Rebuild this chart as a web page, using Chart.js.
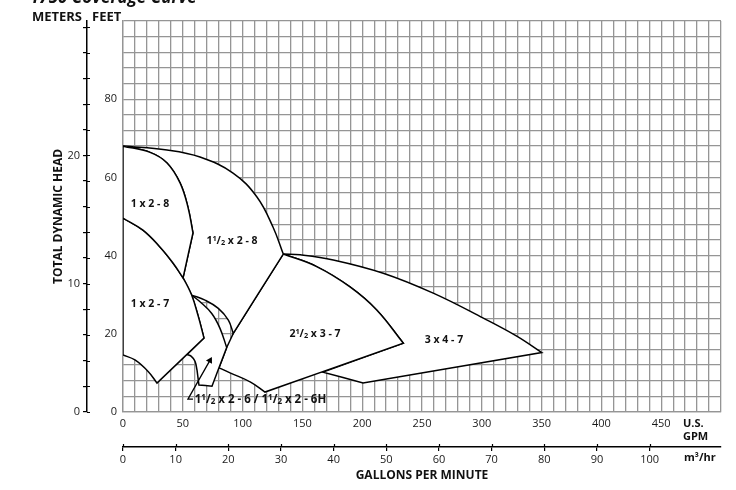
<!DOCTYPE html>
<html>
<head>
<meta charset="utf-8">
<script src="https://cdn.jsdelivr.net/npm/chart.js@4.4.1/dist/chart.umd.min.js"></script>
<style>
  html, body { margin: 0; padding: 0; background: #fff; overflow: hidden; }
</style>
</head>
<body>
<canvas id="coverage-chart" width="736" height="490"></canvas>
<script>
// pump coverage chart - flow in US GPM, head in feet

const gpmLabels = [0, 50, 100, 150, 200, 250, 300, 350, 400, 450];
const feetLabels = [0, 20, 40, 60, 80];
const meterTicks = [0, 2, 4, 6, 8, 10, 12, 14, 16, 18, 20, 22, 24, 26, 28, 30];
const meterLabels = [0, 10, 20];
const m3Ticks = [0, 10, 20, 30, 40, 50, 60, 70, 80, 90, 100];

const regionNames = ['1 x 2 - 8', '1 x 2 - 7', '1½ x 2 - 8', '2½ x 3 - 7', '3 x 4 - 7'];
const labelAnchors = [[22.6, 53.5], [22.6, 27.9], [91.1, 44.0], [160.5, 20.2], [268.4, 18.7]];
const smallName = '1½ x 2 - 6 / 1½ x 2 - 6H';
const smallAnchor = [60.0, 3.3];

// region outlines: list of edges, each edge is [gpm, feet] points
const edges1x2_8 = [
    [[0, 68], [22.6, 66.4], [36.8, 63.7], [47.7, 58.6], [54.3, 52.4], [58.5, 45.8]],
    [[58.5, 45.8], [50.2, 34.3]],
    [[50.2, 34.3], [41.8, 38.1], [30.9, 42.2], [16.7, 46.5], [0, 49.6]],
    [[0, 49.6], [0, 68]]
];
const edges1x2_7 = [
    [[0, 49.6], [16.7, 46.5], [30.9, 42.2], [41.8, 38.1], [50.2, 34.3], [57.4, 29.9], [63.0, 24.4], [67.7, 18.9]],
    [[67.7, 18.9], [28.4, 7.4]],
    [[28.4, 7.4], [21.2, 10.3], [10, 13.3], [0, 14.6]],
    [[0, 14.6], [0, 49.6]]
];
const edges15x2_8 = [
    [[0, 68], [36.8, 67.0], [64.4, 65.2], [92.0, 61.1], [112.0, 55.0], [125.4, 47.3], [134, 40.4]],
    [[134, 40.4], [92.2, 20.1]],
    [[92.2, 20.1], [88.1, 23.5], [79.7, 26.5], [68.6, 28.6], [57.4, 29.9]],
    [[57.4, 29.9], [50.2, 34.3]],
    [[50.2, 34.3], [58.5, 45.8]],
    [[58.5, 45.8], [54.3, 52.4], [47.7, 58.6], [36.8, 63.7], [22.6, 66.4], [0, 68]]
];
const edges15x2_6 = [
    [[57.4, 29.9], [64.4, 28.2], [74.2, 25.2], [81.1, 21.4], [86.7, 16.5]],
    [[86.7, 16.5], [74.4, 6.6]],
    [[74.4, 6.6], [63.5, 6.9]],
    [[63.5, 6.9], [61.9, 10.7]],
    [[61.9, 10.7], [60.2, 13.0], [56.9, 14.3], [53.5, 14.7]],
    [[53.5, 14.7], [67.7, 18.9]],
    [[67.7, 18.9], [63.0, 24.4], [57.4, 29.9]]
];
const edges25x3_7 = [
    [[134, 40.4], [161.9, 37.2], [189.8, 32.0], [212.1, 26.1], [234.4, 17.6]],
    [[234.4, 17.6], [118.7, 5.1]],
    [[118.7, 5.1], [106.3, 7.7], [89.5, 10.0], [80.3, 11.3]],
    [[80.3, 11.3], [86.7, 16.5]],
    [[86.7, 16.5], [92.2, 20.1]],
    [[92.2, 20.1], [134, 40.4]]
];
const edges3x4_7 = [
    [[134, 40.4], [148.2, 40.2], [175.8, 38.9], [217.6, 35.5], [259.4, 30.4], [301.3, 24.0], [329.2, 19.4], [350.1, 15.2]],
    [[350.1, 15.2], [200.7, 7.4]],
    [[200.7, 7.4], [167.2, 10.2]],
    [[167.2, 10.2], [234.4, 17.6]],
    [[234.4, 17.6], [212.1, 26.1], [189.8, 32.0], [161.9, 37.2], [134, 40.4]]
];
const arrowLine = [[58.5, 3.3], [54.3, 3.3], [72.7, 13.2]];

const FT_PER_M = 3.28084;
const GPM_PER_M3H = 4.40287;
const FONT = '"Open Sans", Lato, sans-serif';

Chart.defaults.font.family = FONT;
Chart.defaults.color = '#1a1a1a';

// edges share their end points, so corners come out sharp with tension on
function outline(edges) {
    const pts = [];
    edges.forEach(e => e.forEach(p => pts.push({x: p[0], y: p[1]})));
    return pts;
}

function region(edges) {
    return {
        data: outline(edges),
        showLine: true,
        fill: 'shape',
        backgroundColor: '#fff',
        borderColor: '#000',
        borderWidth: 1.5,
        tension: 0.4,
        pointRadius: 0
    };
}

function textParts(str, size) {
    const parts = [];
    str.split(/(½)/).forEach(s => {
        if (s === '½') {
            parts.push({t: '1', size: size * 0.7, dy: -3});
            parts.push({t: '/', size: size, dy: 0});
            parts.push({t: '2', size: size * 0.7, dy: 1});
        } else if (s) {
            parts.push({t: s, size: size, dy: 0});
        }
    });
    return parts;
}

function drawRich(ctx, str, x, y, size, align) {
    const parts = textParts(str, size);
    let w = 0;
    parts.forEach(p => {
        ctx.font = 'bold ' + p.size + 'px ' + FONT;
        p.w = ctx.measureText(p.t).width;
        w += p.w;
    });
    let cx = align === 'left' ? x : x - w / 2;
    ctx.textAlign = 'left';
    ctx.textBaseline = 'alphabetic';
    parts.forEach(p => {
        ctx.font = 'bold ' + p.size + 'px ' + FONT;
        ctx.fillText(p.t, cx, y + size * 0.36 + p.dy);
        cx += p.w;
    });
}

const extras = {
    id: 'extras',
    afterDraw(chart) {
        const ctx = chart.ctx;
        const {x, y, ym, xm} = chart.scales;
        ctx.save();
        ctx.fillStyle = '#111';

        // cut title at the very top
        ctx.font = 'bold italic 17px ' + FONT;
        ctx.textAlign = 'left';
        ctx.textBaseline = 'alphabetic';
        ctx.fillText('1750 Coverage Curve', 30, 3);

        // ticks crossing the metric axis lines
        ctx.strokeStyle = '#000';
        ctx.lineWidth = 1.2;
        ctx.beginPath();
        meterTicks.forEach(v => {
            const py = Math.round(ym.getPixelForValue(v)) + 0.5;
            ctx.moveTo(ym.right, py);
            ctx.lineTo(ym.right + 3, py);
        });
        m3Ticks.forEach(v => {
            const px = Math.round(xm.getPixelForValue(v)) + 0.5;
            ctx.moveTo(px, xm.top);
            ctx.lineTo(px, xm.top - 3);
        });
        ctx.stroke();

        ctx.font = 'bold 13px ' + FONT;
        ctx.textBaseline = 'middle';
        ctx.textAlign = 'right';
        ctx.fillText('METERS', ym.right - 5, 17);
        ctx.textAlign = 'left';
        ctx.fillText('FEET', ym.right + 5, 17);

        ctx.font = 'bold 11px ' + FONT;
        ctx.fillText('U.S.', x.right - 38, 424);
        ctx.fillText('GPM', x.right - 38, 437);
        ctx.fillText('m³/hr', x.right - 37, 458);

        regionNames.forEach((name, i) => {
            const a = labelAnchors[i];
            drawRich(ctx, name, x.getPixelForValue(a[0]), y.getPixelForValue(a[1]), 10.5, 'center');
        });
        drawRich(ctx, smallName, x.getPixelForValue(smallAnchor[0]), y.getPixelForValue(smallAnchor[1]), 11.5, 'left');
        ctx.restore();
    }
};

const arrowAngle = 29;

const data = {
    datasets: [
        {
            data: outline([arrowLine]),
            showLine: true,
            fill: false,
            borderColor: '#000',
            borderWidth: 1.3,
            tension: 0,
            pointRadius: [0, 0, 4],
            pointStyle: 'triangle',
            pointRotation: arrowAngle,
            pointBackgroundColor: '#000',
            pointBorderColor: '#000',
            pointBorderWidth: 0
        },
        region(edges1x2_8),
        region(edges1x2_7),
        region(edges15x2_8),
        region(edges15x2_6),
        region(edges25x3_7),
        region(edges3x4_7)
    ]
};

const gridGray = '#959595';

const config = {
    type: 'scatter',
    data,
    options: {
        responsive: false,
        animation: false,
        devicePixelRatio: 1,
        layout: {padding: {left: 0, top: 21, right: 15, bottom: 0}},
        plugins: {
            legend: {display: false},
            tooltip: {enabled: false}
        },
        scales: {
            x: {
                type: 'linear', position: 'bottom', weight: 0,
                min: 0, max: 500,
                grid: {color: gridGray, lineWidth: 1.3, drawTicks: false},
                border: {color: gridGray, width: 1.3},
                ticks: {
                    stepSize: 10, autoSkip: false, maxRotation: 0, padding: 5,
                    font: {size: 11}, color: '#1a1a1a',
                    callback: v => (gpmLabels.includes(v) ? String(v) : '')
                },
                afterFit: s => { s.height = 35; }
            },
            xm: {
                type: 'linear', position: 'bottom', weight: 1,
                min: 0, max: 500 / GPM_PER_M3H,
                afterBuildTicks: s => { s.ticks = m3Ticks.map(v => ({value: v})); },
                grid: {drawOnChartArea: false, color: '#000', lineWidth: 1.2, tickLength: 4},
                border: {color: '#000', width: 1.5},
                ticks: {padding: 2, autoSkip: false, maxRotation: 0, font: {size: 11}, color: '#1a1a1a'},
                title: {
                    display: true, text: 'GALLONS PER MINUTE', color: '#111',
                    font: {size: 12, weight: 'bold'}, padding: {top: 0, bottom: 7}
                },
                afterFit: s => { s.height = 43; }
            },
            y: {
                type: 'linear', position: 'left', weight: 0,
                min: 0, max: 100,
                grid: {color: gridGray, lineWidth: 1.3, drawTicks: false},
                border: {color: gridGray, width: 1.3},
                ticks: {
                    stepSize: 4, autoSkip: false, padding: 6,
                    font: {size: 11}, color: '#1a1a1a',
                    callback: v => (feetLabels.includes(v) ? String(v) : '')
                },
                afterFit: s => { s.width = 36; }
            },
            ym: {
                type: 'linear', position: 'left', weight: 1,
                min: 0, max: 100 / FT_PER_M,
                afterBuildTicks: s => { s.ticks = meterTicks.map(v => ({value: v})); },
                grid: {drawOnChartArea: false, color: '#000', lineWidth: 1.2, tickLength: 4},
                border: {color: '#000', width: 1.5},
                ticks: {
                    padding: 3, autoSkip: false, font: {size: 11}, color: '#1a1a1a',
                    callback: v => (meterLabels.includes(v) ? String(v) : '')
                },
                title: {
                    display: true, text: 'TOTAL DYNAMIC HEAD', color: '#111',
                    font: {size: 12, weight: 'bold'}, padding: {top: 51, bottom: 0}
                },
                afterFit: s => { s.width = 87; }
            }
        }
    },
    plugins: [extras]
};

const coverageChart = new Chart(document.getElementById('coverage-chart'), config);
</script>
</body>
</html>
